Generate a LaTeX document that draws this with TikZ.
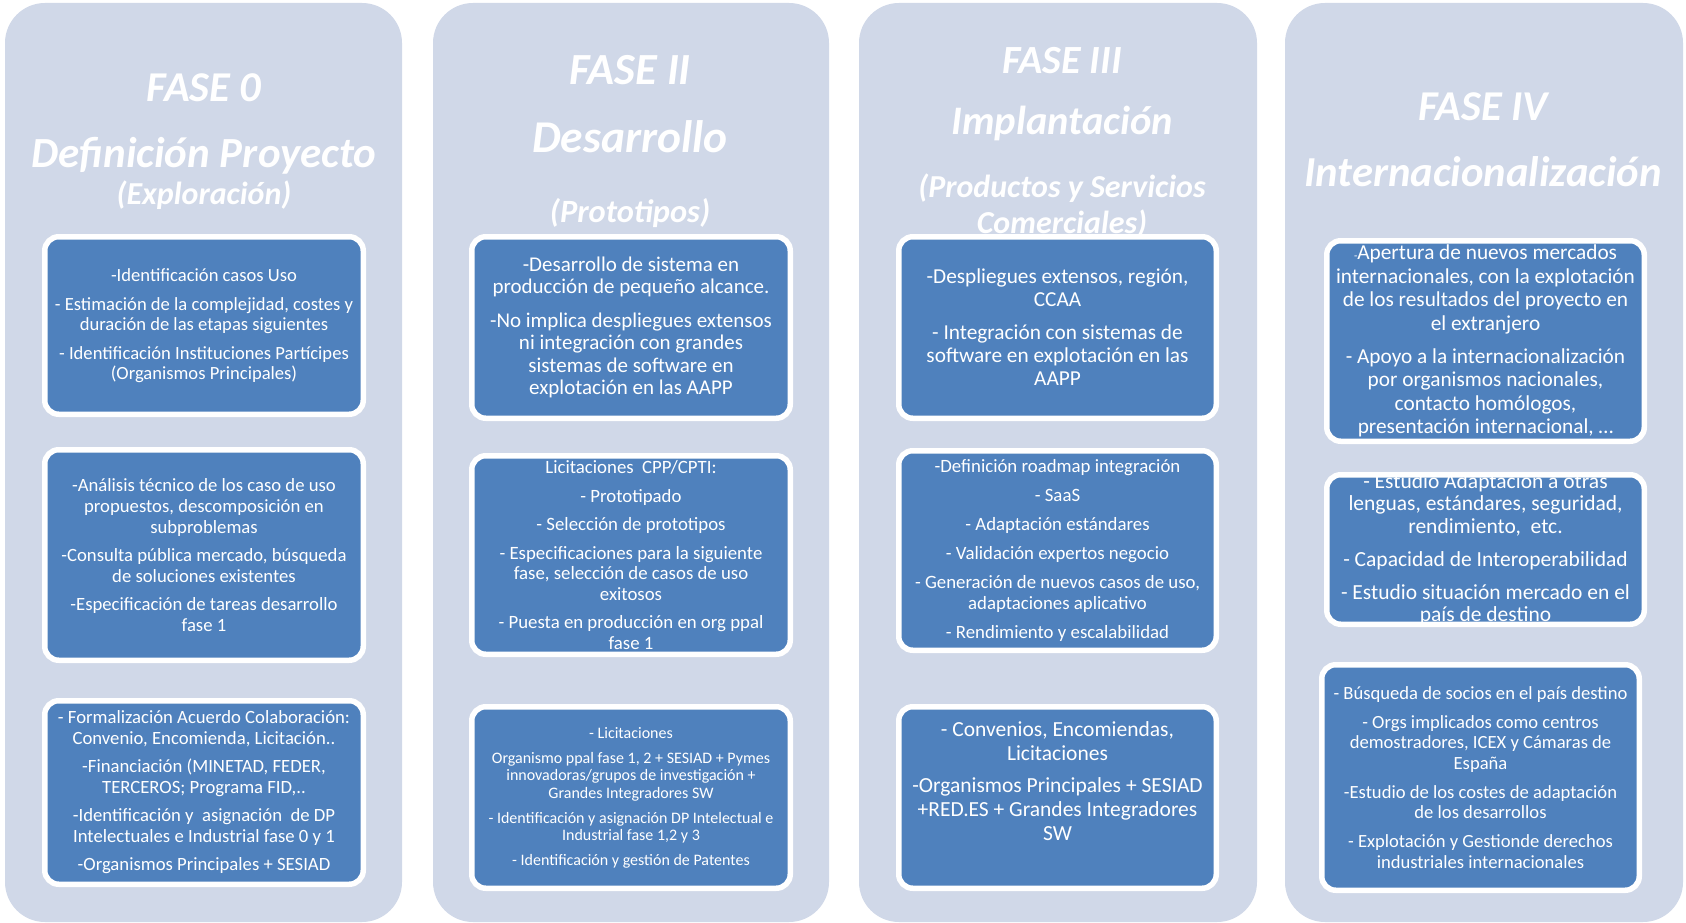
\documentclass[tikz,border=0pt]{standalone}
\usepackage{fontspec}
\setmainfont{Carlito}
\definecolor{panelbg}{HTML}{D0D8E8}
\definecolor{boxblue}{HTML}{4F81BD}
\tikzset{
  panel/.style={fill=panelbg, draw=none, rounded corners=40pt, inner sep=0pt},
  bluebox/.style={fill=boxblue, draw=white, line width=5.5pt, rounded corners=14pt, inner sep=0pt},
  ttl/.style={text=white, anchor=base, inner sep=0pt, font=\fontsize{#1}{#1}\selectfont\bfseries\itshape},
  body/.style 2 args={text=white, align=center, inner sep=0pt, font=\fontsize{#1}{#2}\selectfont},
}
\begin{document}
\begin{tikzpicture}[x=1pt,y=-1pt]
\useasboundingbox (0,0) rectangle (1686,923);
\fill[white] (0,0) rectangle (1686,923);
% panels
\node[panel, minimum width=397pt, minimum height=919pt] (p0) at (203.5,462.5) {};
\node[panel, minimum width=396pt, minimum height=919pt] (p1) at (631,462.5) {};
\node[panel, minimum width=398pt, minimum height=919pt] (p2) at (1058,462.5) {};
\node[panel, minimum width=398pt, minimum height=919pt] (p3) at (1484,462.5) {};
% titles
\node[ttl=42.5] (t0a) at (204,102) {FASE 0};
\node[ttl=43] (t0b) at (204,167) {Definición Proyecto};
\node[ttl=32] (t0c) at (204,204) {(Exploración)};
\node[ttl=44.5] (t1a) at (630,85) {FASE II};
\node[ttl=45.5] (t1b) at (630,153) {Desarrollo};
\node[ttl=32.5] (t1c) at (630,222) {(Prototipos)};
\node[ttl=40] (t2a) at (1062,74) {FASE III};
\node[ttl=40.5] (t2b) at (1062,135) {Implantación};
\node[ttl=32] (t2c) at (1062,197) {(Productos y Servicios};
\node[ttl=32] (t2d) at (1062,233) {Comerciales)};
\node[ttl=42.5] (t3a) at (1483,121) {FASE IV};
\node[ttl=42.7] (t3b) at (1483,186) {Internacionalización};
% boxes
\node[bluebox, minimum width=318.5pt, minimum height=177.5pt] (b01) at (204,325.5) {};
\node[bluebox, minimum width=318.5pt, minimum height=210.5pt] (b02) at (204,555) {};
\node[bluebox, minimum width=318.5pt, minimum height=183.5pt] (b03) at (204,792.5) {};
\node[bluebox, minimum width=318.5pt, minimum height=181.5pt] (b11) at (631,327.5) {};
\node[bluebox, minimum width=318.5pt, minimum height=198.5pt] (b12) at (631,555) {};
\node[bluebox, minimum width=318.5pt, minimum height=181.5pt] (b13) at (631,797.5) {};
\node[bluebox, minimum width=317.5pt, minimum height=181.5pt] (b21) at (1057.5,327.5) {};
\node[bluebox, minimum width=317.5pt, minimum height=199.5pt] (b22) at (1057.5,550.5) {};
\node[bluebox, minimum width=317.5pt, minimum height=181.5pt] (b23) at (1057.5,797.5) {};
\node[bluebox, minimum width=317.5pt, minimum height=200.5pt] (b31) at (1485.5,341) {};
\node[bluebox, minimum width=317.5pt, minimum height=149.5pt] (b32) at (1485.5,549.5) {};
\node[bluebox, minimum width=317.5pt, minimum height=225.5pt] (b33) at (1480.5,777.5) {};
% box texts
\node[body={18.6}{20}] (x01) at (b01.center) {-Identificación casos Uso\\[9pt]
- Estimación de la complejidad, costes y\\duración de las etapas siguientes\\[9pt]
- Identificación Instituciones Partícipes\\(Organismos Principales)};
\node[body={18.7}{21}] (x02) at (b02.center) {-Análisis técnico de los caso de uso\\propuestos, descomposición en\\subproblemas\\[7pt]
-Consulta pública mercado, búsqueda\\de soluciones existentes\\[7pt]
-Especificación de tareas desarrollo\\fase 1};
\node[body={18.7}{20.5}] (x03) at (b03.center) {- Formalización Acuerdo Colaboración:\\Convenio, Encomienda, Licitación..\\[8pt]
-Financiación (MINETAD, FEDER,\\TERCEROS; Programa FID,..\\[8pt]
-Identificación y\ \ asignación\ \ de DP\\Intelectuales e Industrial fase 0 y 1\\[8pt]
-Organismos Principales + SESIAD};
\node[body={21}{22.5}] (x11) at (b11.center) {-Desarrollo de sistema en\\producción de pequeño alcance.\\[11pt]
-No implica despliegues extensos\\ni integración con grandes\\sistemas de software en\\explotación en las AAPP};
\node[body={18.8}{20.5}] (x12) at (b12.center) {Licitaciones\ \ CPP/CPTI:\\[8pt]
- Prototipado\\[8pt]
- Selección de prototipos\\[8pt]
- Especificaciones para la siguiente\\fase, selección de casos de uso\\exitosos\\[8pt]
- Puesta en producción en org ppal\\fase 1};
\node[body={16}{17.5}] (x13) at (b13.center) {- Licitaciones\\[7.5pt]
Organismo ppal fase 1, 2 + SESIAD + Pymes\\innovadoras/grupos de investigación +\\Grandes Integradores SW\\[7.5pt]
- Identificación y asignación DP Intelectual e\\Industrial fase 1,2 y 3\\[7pt]
- Identificación y gestión de Patentes};
\node[body={21.3}{23}] (x21) at (b21.center) {-Despliegues extensos, región,\\CCAA\\[10pt]
- Integración con sistemas de\\software en explotación en las\\AAPP};
\node[body={18.8}{20.5}] (x22) at (b22.center) {-Definición roadmap integración\\[8.5pt]
- SaaS\\[8.5pt]
- Adaptación estándares\\[8.5pt]
- Validación expertos negocio\\[8.5pt]
- Generación de nuevos casos de uso,\\adaptaciones aplicativo\\[8.5pt]
- Rendimiento y escalabilidad};
\node[body={21.5}{24}] (x23) at (1057.5,781) {- Convenios, Encomiendas,\\Licitaciones\\[8pt]
-Organismos Principales + SESIAD\\+RED.ES + Grandes Integradores\\SW};
\node[body={21.3}{23.5}] (x31) at (b31.center) {{\fontsize{11}{11}\selectfont -}Apertura de nuevos mercados\\internacionales, con la explotación\\de los resultados del proyecto en\\el extranjero\\[9.5pt]
- Apoyo a la internacionalización\\por organismos nacionales,\\contacto homólogos,\\presentación internacional, …};
\begin{scope}
\clip (1324,472) rectangle (1647,627);
\node[body={21.5}{22.5}] (x32) at (b32.center) {- Estudio Adaptación a otras\\lenguas, estándares, seguridad,\\rendimiento,\ \ etc.\\[10.5pt]
- Capacidad de Interoperabilidad\\[10.5pt]
- Estudio situación mercado en el\\país de destino};
\end{scope}
\node[body={18.6}{20.5}] (x33) at (b33.center) {- Búsqueda de socios en el país destino\\[8.5pt]
- Orgs implicados como centros\\demostradores, ICEX y Cámaras de\\España\\[8.5pt]
-Estudio de los costes de adaptación\\de los desarrollos\\[8.5pt]
- Explotación y Gestionde derechos\\industriales internacionales};
\end{tikzpicture}
\end{document}
